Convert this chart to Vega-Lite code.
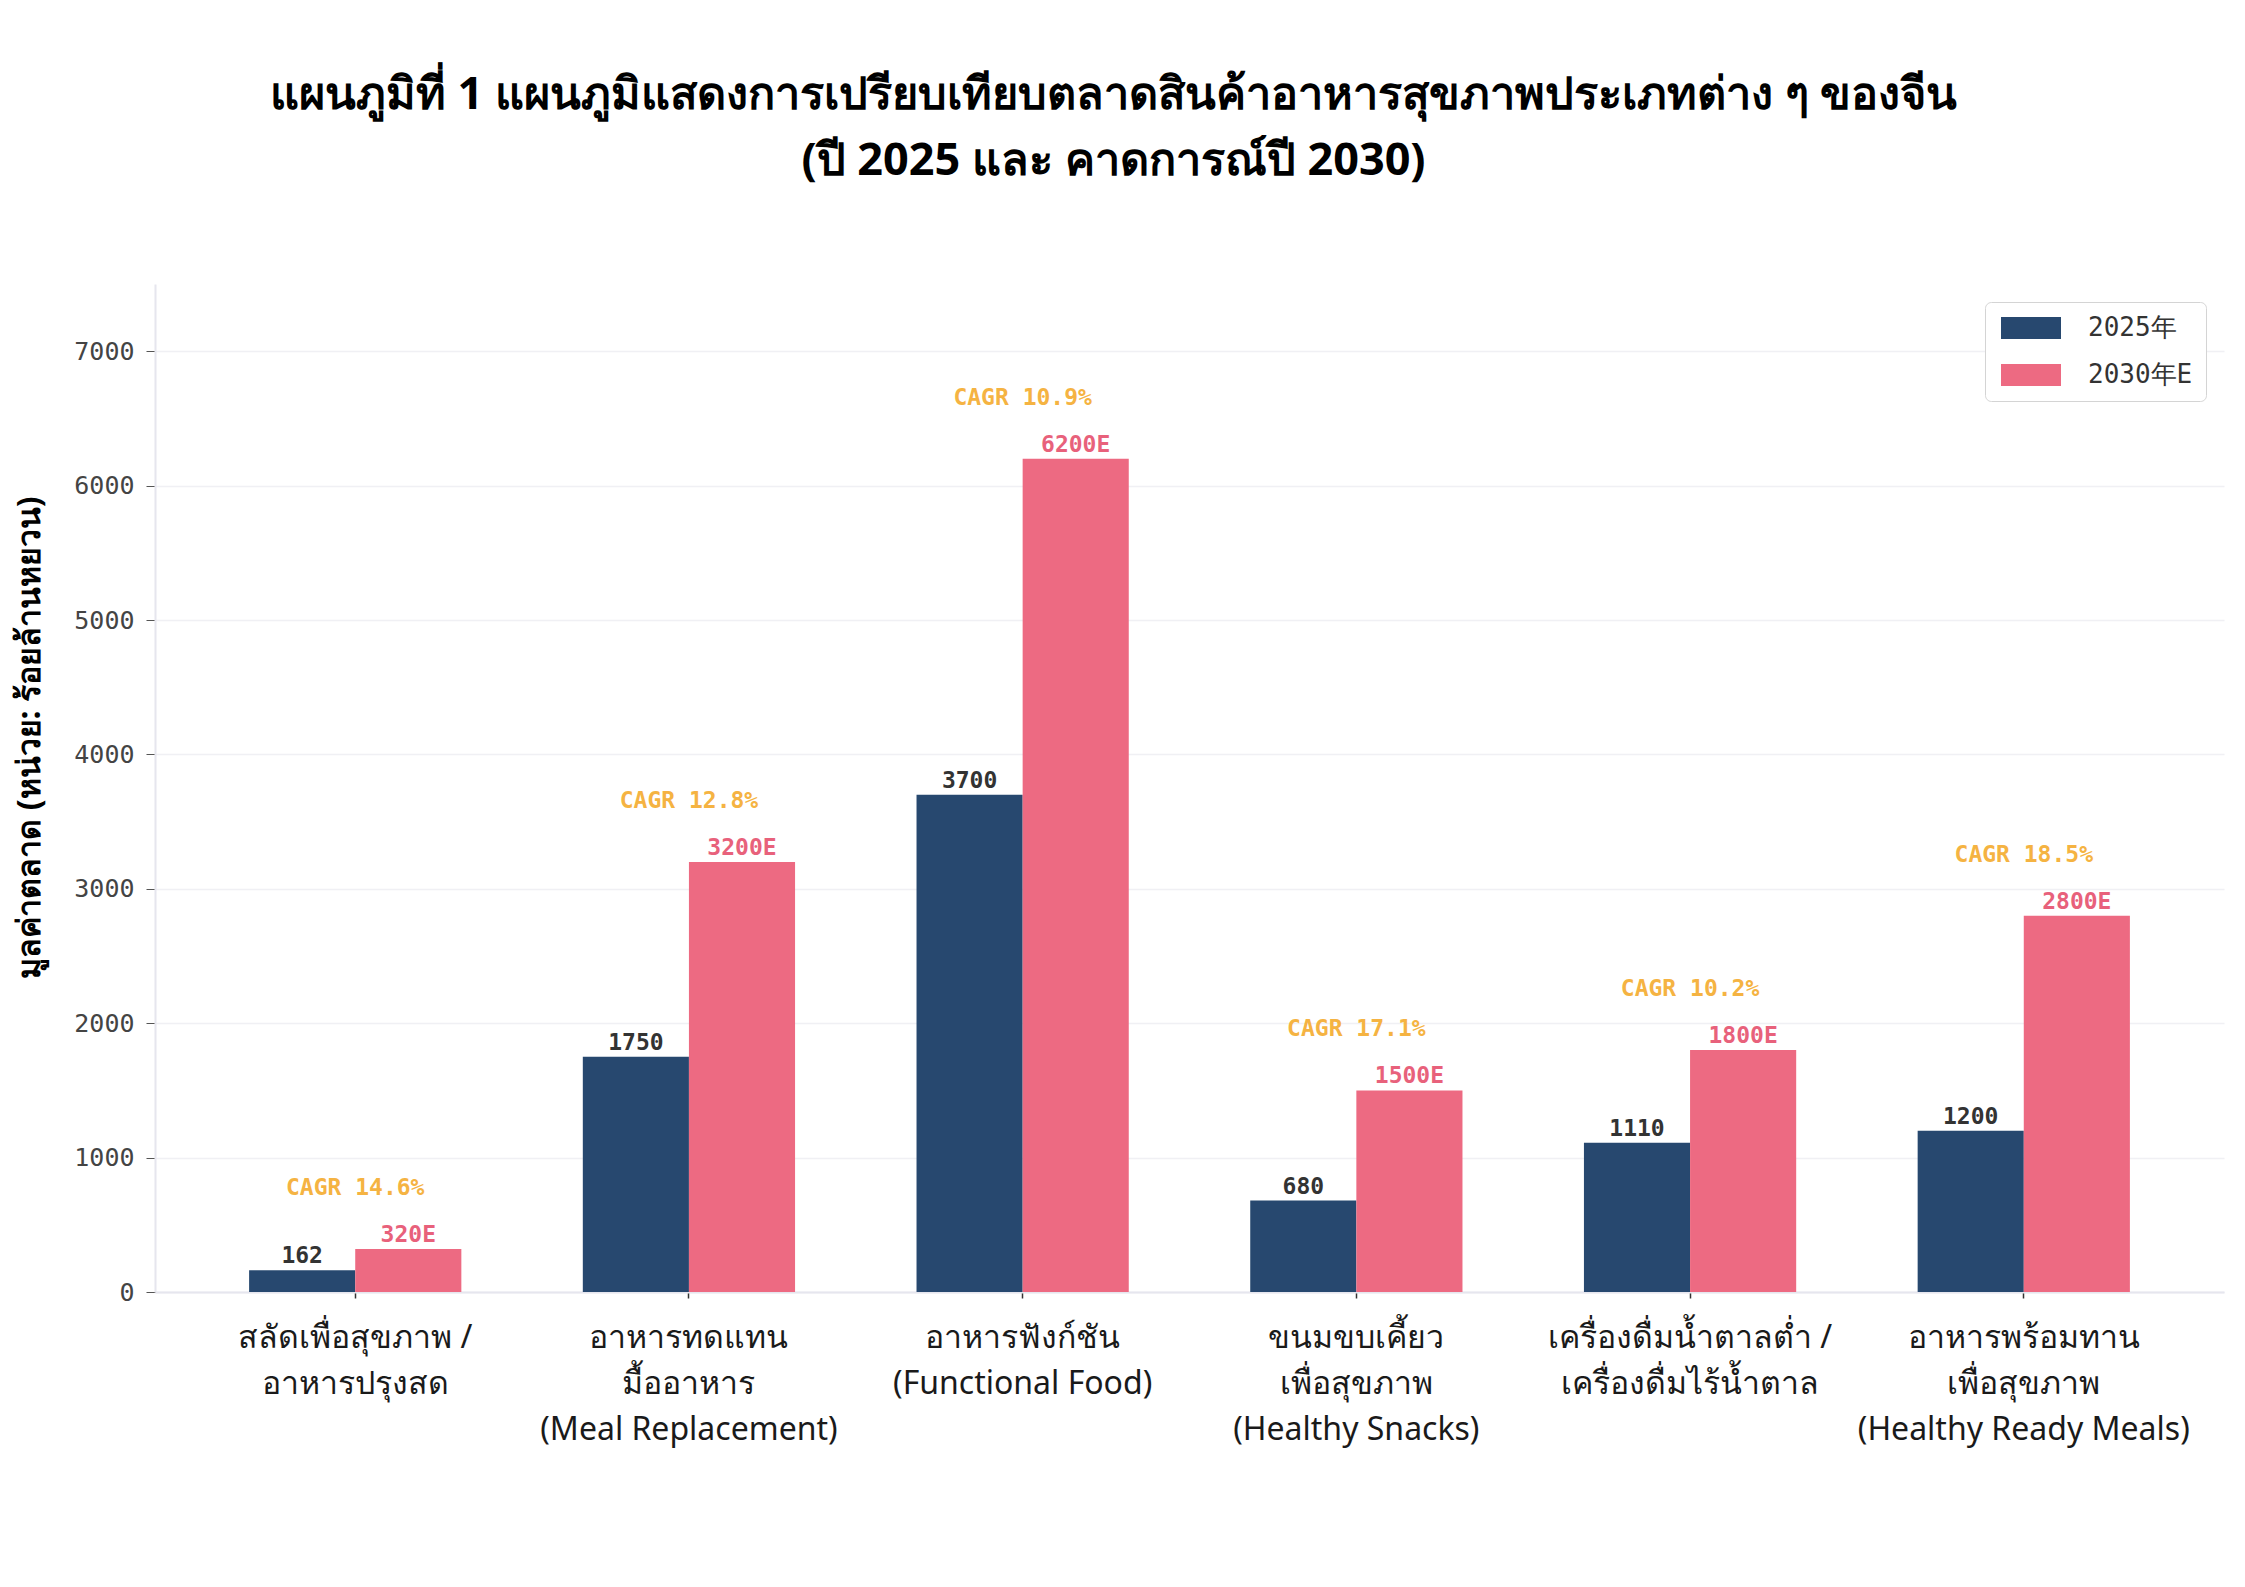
{
  "$schema": "https://vega.github.io/schema/vega-lite/v6.json",
  "autosize": "none",
  "width": 2069,
  "height": 1008,
  "padding": {"left": 155, "top": 284, "right": 21, "bottom": 295},
  "background": "white",
  "title": {
    "text": ["แผนภูมิที่ 1 แผนภูมิแสดงการเปรียบเทียบตลาดสินค้าอาหารสุขภาพประเภทต่าง ๆ ของจีน", "(ปี 2025 และ คาดการณ์ปี 2030)"],
    "anchor": "middle",
    "frame": "group",
    "dx": -76,
    "offset": 100,
    "fontSize": 45,
    "fontWeight": "bold",
    "lineHeight": 66,
    "color": "#000000"
  },
  "data": {
    "values": [
      {"category": "สลัดเพื่อสุขภาพ /|อาหารปรุงสด", "year": "2025年", "value": 162},
      {"category": "สลัดเพื่อสุขภาพ /|อาหารปรุงสด", "year": "2030年E", "value": 320, "cagr": 14.6},
      {"category": "อาหารทดแทน|มื้ออาหาร|(Meal Replacement)", "year": "2025年", "value": 1750},
      {"category": "อาหารทดแทน|มื้ออาหาร|(Meal Replacement)", "year": "2030年E", "value": 3200, "cagr": 12.8},
      {"category": "อาหารฟังก์ชัน|(Functional Food)", "year": "2025年", "value": 3700},
      {"category": "อาหารฟังก์ชัน|(Functional Food)", "year": "2030年E", "value": 6200, "cagr": 10.9},
      {"category": "ขนมขบเคี้ยว|เพื่อสุขภาพ|(Healthy Snacks)", "year": "2025年", "value": 680},
      {"category": "ขนมขบเคี้ยว|เพื่อสุขภาพ|(Healthy Snacks)", "year": "2030年E", "value": 1500, "cagr": 17.1},
      {"category": "เครื่องดื่มน้ำตาลต่ำ /|เครื่องดื่มไร้น้ำตาล", "year": "2025年", "value": 1110},
      {"category": "เครื่องดื่มน้ำตาลต่ำ /|เครื่องดื่มไร้น้ำตาล", "year": "2030年E", "value": 1800, "cagr": 10.2},
      {"category": "อาหารพร้อมทาน|เพื่อสุขภาพ|(Healthy Ready Meals)", "year": "2025年", "value": 1200},
      {"category": "อาหารพร้อมทาน|เพื่อสุขภาพ|(Healthy Ready Meals)", "year": "2030年E", "value": 2800, "cagr": 18.5}
    ]
  },
  "encoding": {
    "x": {
      "field": "category",
      "type": "nominal",
      "sort": null,
      "scale": {"paddingInner": 0.364, "paddingOuter": 0.282},
      "axis": {
        "title": null,
        "labelAngle": 0,
        "labelExpr": "split(datum.label, '|')",
        "labelFontSize": 32,
        "labelFontWeight": "normal",
        "labelLineHeight": 46,
        "labelColor": "#1a1a1a",
        "labelPadding": 24,
        "labelLimit": 700,
        "labelOverlap": false,
        "labelBaseline": "top",
        "tickSize": 6,
        "tickColor": "#333333",
        "tickWidth": 1.5,
        "domainColor": "#e6e6ee",
        "domainWidth": 2,
        "grid": false
      }
    },
    "y": {
      "field": "value",
      "type": "quantitative",
      "scale": {"domain": [0, 7500], "nice": false},
      "axis": {
        "title": "มูลค่าตลาด (หน่วย: ร้อยล้านหยวน)",
        "titleFontSize": 32,
        "titleFontWeight": "bold",
        "titleColor": "#000000",
        "titleAngle": 270,
        "titleX": -126,
        "titleY": 453,
        "titleAlign": "center",
        "titleBaseline": "middle",
        "values": [0, 1000, 2000, 3000, 4000, 5000, 6000, 7000],
        "format": "d",
        "labelFont": "DejaVu Sans Mono",
        "labelFontSize": 25,
        "labelColor": "#444444",
        "labelPadding": 12,
        "tickSize": 9,
        "tickColor": "#555555",
        "domainColor": "#e6e6ee",
        "domainWidth": 2,
        "gridColor": "#f0f0f4",
        "gridWidth": 1.5
      }
    }
  },
  "layer": [
    {
      "mark": {"type": "bar"},
      "encoding": {
        "xOffset": {"field": "year", "type": "nominal", "scale": {"paddingInner": 0, "paddingOuter": 0}},
        "color": {
          "field": "year",
          "type": "nominal",
          "scale": {"domain": ["2025年", "2030年E"], "range": ["#27486f", "#ed6a82"]},
          "legend": {
            "title": null,
            "orient": "none",
            "legendX": 1830,
            "legendY": 18,
            "symbolType": "M-1,-1.1L5,-1.1L5,1.1L-1,1.1Z",
            "symbolSize": 400,
            "symbolStrokeWidth": 0,
            "labelOffset": 64,
            "labelFont": "DejaVu Sans Mono",
            "labelFontSize": 26,
            "labelColor": "#333333",
            "rowPadding": 21,
            "padding": 13,
            "strokeColor": "#d4d4d4",
            "cornerRadius": 6,
            "fillColor": "#ffffff"
          }
        }
      }
    },
    {
      "transform": [{"filter": "datum.year === '2025年'"}],
      "mark": {"type": "text", "font": "DejaVu Sans Mono", "fontSize": 23, "fontWeight": "bold", "color": "#333333", "baseline": "alphabetic", "dy": -7},
      "encoding": {
        "xOffset": {"datum": "2025年", "scale": {"domain": ["2025年", "2030年E"]}},
        "text": {"field": "value", "type": "quantitative", "format": "d"}
      }
    },
    {
      "transform": [
        {"filter": "datum.year === '2030年E'"},
        {"calculate": "datum.value + 'E'", "as": "valueText"}
      ],
      "mark": {"type": "text", "font": "DejaVu Sans Mono", "fontSize": 23, "fontWeight": "bold", "color": "#e8617b", "baseline": "alphabetic", "dy": -7},
      "encoding": {
        "xOffset": {"datum": "2030年E", "scale": {"domain": ["2025年", "2030年E"]}},
        "text": {"field": "valueText", "type": "nominal"}
      }
    },
    {
      "transform": [
        {"filter": "isValid(datum.cagr)"},
        {"calculate": "'CAGR ' + format(datum.cagr, '.1f') + '%'", "as": "cagrText"}
      ],
      "mark": {"type": "text", "font": "DejaVu Sans Mono", "fontSize": 23, "fontWeight": "bold", "color": "#f5b342", "baseline": "alphabetic", "dy": -54},
      "encoding": {
        "text": {"field": "cagrText", "type": "nominal"}
      }
    }
  ],
  "config": {
    "view": {"stroke": null},
    "font": "Noto Sans"
  }
}
